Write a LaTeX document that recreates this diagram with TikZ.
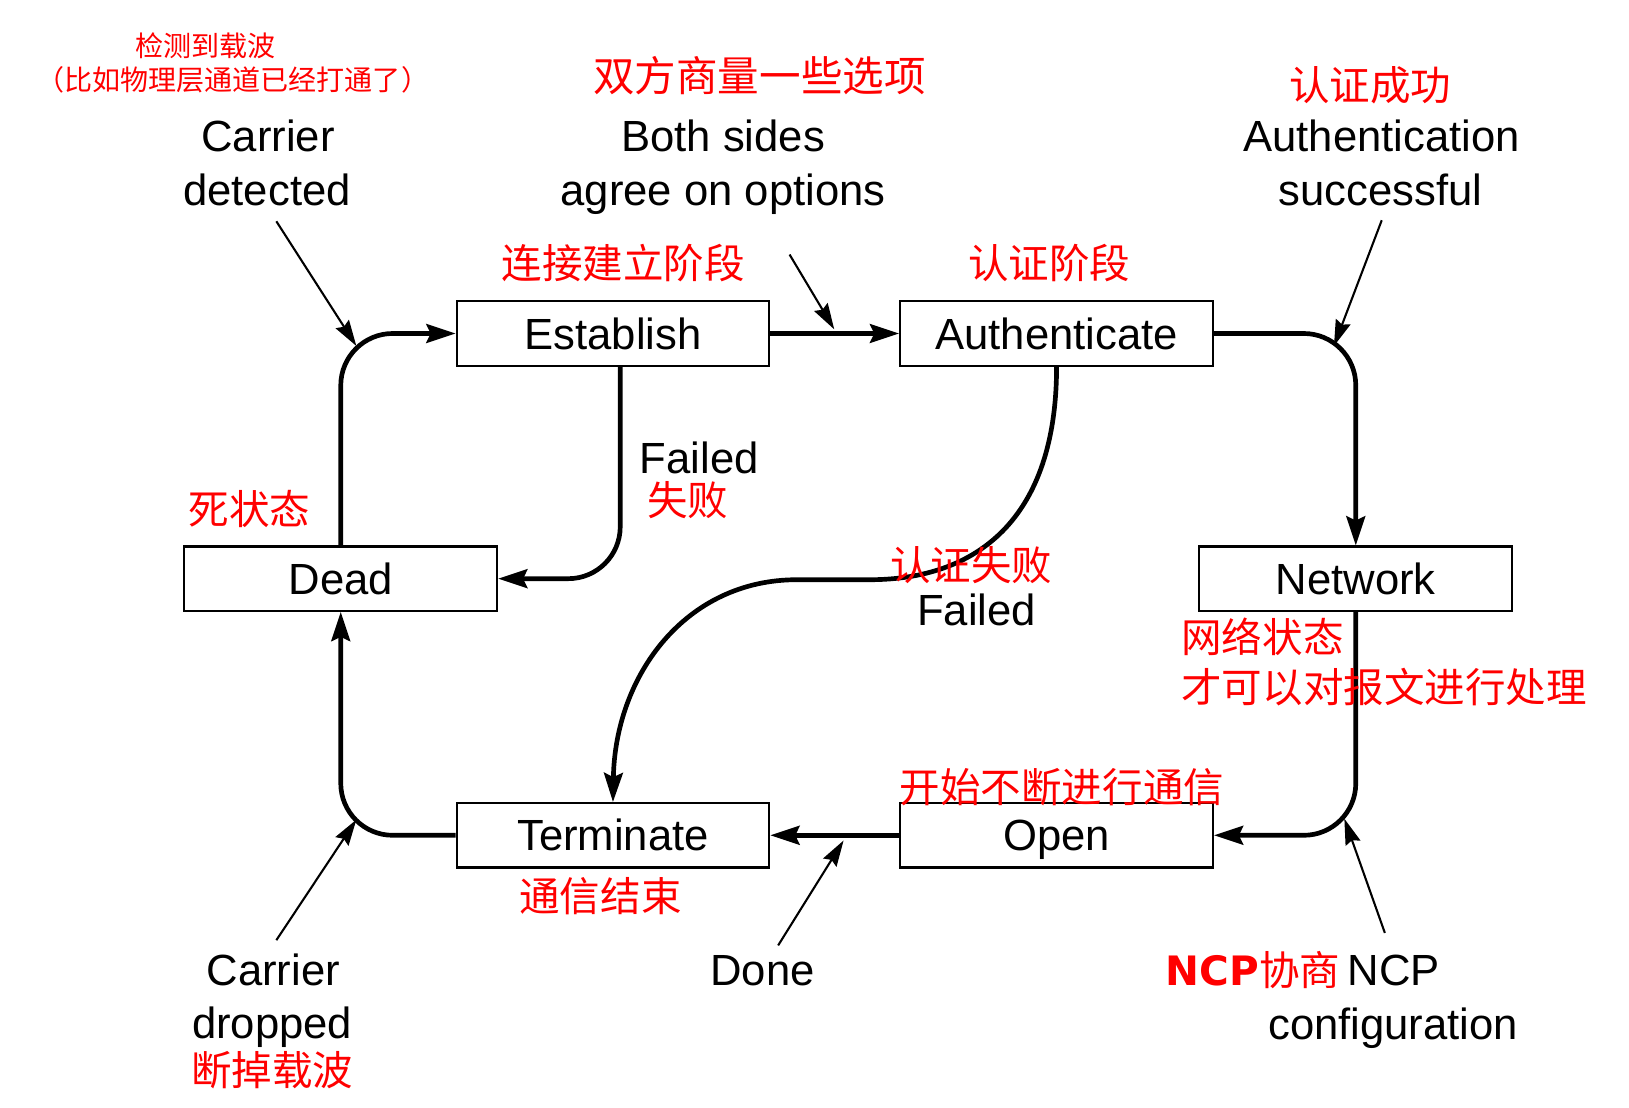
\documentclass[tikz,border=0pt]{standalone}
\usepackage{fontspec}
\setmainfont{Liberation Sans}
\newfontfamily\cjk{Noto Sans CJK SC}
\newfontfamily\djv{DejaVu Sans}
\usetikzlibrary{arrows.meta}
\begin{document}
\begin{tikzpicture}[x=1pt,y=-1pt,
  state/.style={draw, line width=2pt, minimum width=301pt, minimum height=62pt, inner sep=0pt,
    font=\fontsize{42}{50}\selectfont, text height=30pt, text depth=0pt},
  en/.style={font=\fontsize{42}{50}\selectfont, inner sep=0pt, anchor=base},
  zh/.style={font=\fontsize{39}{47}\cjk, text=red, inner sep=0pt, anchor=base},
  zhs/.style={font=\fontsize{27}{32}\cjk, text=red, inner sep=0pt, anchor=base},
  flow/.style={line width=4.5pt, rounded corners=50pt, -{Stealth[length=28pt,width=18pt,inset=4pt]}},
  hint/.style={line width=2pt, -{Stealth[length=25pt,width=15pt,inset=3pt]}}]
\useasboundingbox (0,0) rectangle (1568,1066);

% states
\node[state] (est)  at (590,321)  {Establish};
\node[state] (auth) at (1017,321) {Authenticate};
\node[state] (dead) at (328,557)  {Dead};
\node[state] (net)  at (1305,557) {Network};
\node[state] (term) at (590,804)  {Terminate};
\node[state] (open) at (1017,804) {Open};

% main transitions
\draw[flow] (dead.north) |- (est.west);
\draw[flow] (est.east) -- (auth.west);
\draw[flow] (auth.east) -| (net.north);
\draw[flow] (net.south) |- (open.east);
\draw[flow] (open.west) -- (term.east);
\draw[flow] (term.west) -| (dead.south);
\draw[flow] ([xshift=7pt]est.south) |- (dead.east);
\draw[line width=4.5pt, -{Stealth[length=28pt,width=18pt,inset=4pt]}]
  (auth.south) .. controls (1017,500) and (940,558) .. (837,558)
  -- (767,558)
  .. controls (660,558) and (592,650) .. (term.north);

% event pointers
\coordinate (cdT) at (266,213);  \coordinate (cdH) at (343,333);
\coordinate (bsT) at (760,245);  \coordinate (bsH) at (803,317);
\coordinate (asT) at (1330,212); \coordinate (asH) at (1284,333);
\coordinate (crT) at (266,905);  \coordinate (crH) at (343,789);
\coordinate (dnT) at (749,910);  \coordinate (dnH) at (812,809);
\coordinate (ncT) at (1333,898); \coordinate (ncH) at (1294,788);
\draw[hint] (cdT) -- (cdH);
\draw[hint] (bsT) -- (bsH);
\draw[hint] (asT) -- (asH);
\draw[hint] (crT) -- (crH);
\draw[hint] (dnT) -- (dnH);
\draw[hint] (ncT) -- (ncH);

% black labels
\node[en] (l1) at (258,146) {Carrier};
\node[en] (l2) at (257,198) {detected};
\node[en] (l3) at (696,146) {Both sides};
\node[en] (l4) at (696,198) {agree on options};
\node[en] (l5) at (1330,146) {Authentication};
\node[en] (l6) at (1329,198) {successful};
\node[en] (l7) at (673,456) {Failed};
\node[en] (l8) at (940,602) {Failed};
\node[en] (l9) at (263,949) {Carrier};
\node[en] (l10) at (262,1000) {dropped};
\node[en] (l11) at (734,949) {Done};
\node[en, anchor=base west] (l12) at (1297,949) {NCP};
\node[en] (l13) at (1341,1001) {configuration};

% red annotations
\node[zhs] (r1) at (198,54) {检测到载波};
\node[zhs] (r2) at (224,87) {（比如物理层通道已经打通了）};
\node[zh, font=\fontsize{40}{48}\cjk] (r3) at (731,88) {双方商量一些选项};
\node[zh] (r4) at (1319,97) {认证成功};
\node[zh] (r5) at (600,268) {连接建立阶段};
\node[zh] (r6) at (1010,268) {认证阶段};
\node[zh] (r7) at (662,496) {失败};
\node[zh] (r8) at (240,505) {死状态};
\node[zh] (r9) at (935,559) {认证失败};
\node[zh, anchor=base west] (r10) at (1137,628) {网络状态};
\node[zh, anchor=base west] (r11) at (1137,676) {才可以对报文进行处理};
\node[zh, anchor=base west] (r12) at (866,772) {开始不断进行通信};
\node[zh] (r13) at (578,877) {通信结束};
\node[zh] (r14) at (262,1045) {断掉载波};
\node[zh, anchor=base west] (r15) at (1122,949) {{\djv\bfseries NCP}协商};
\end{tikzpicture}
\end{document}
